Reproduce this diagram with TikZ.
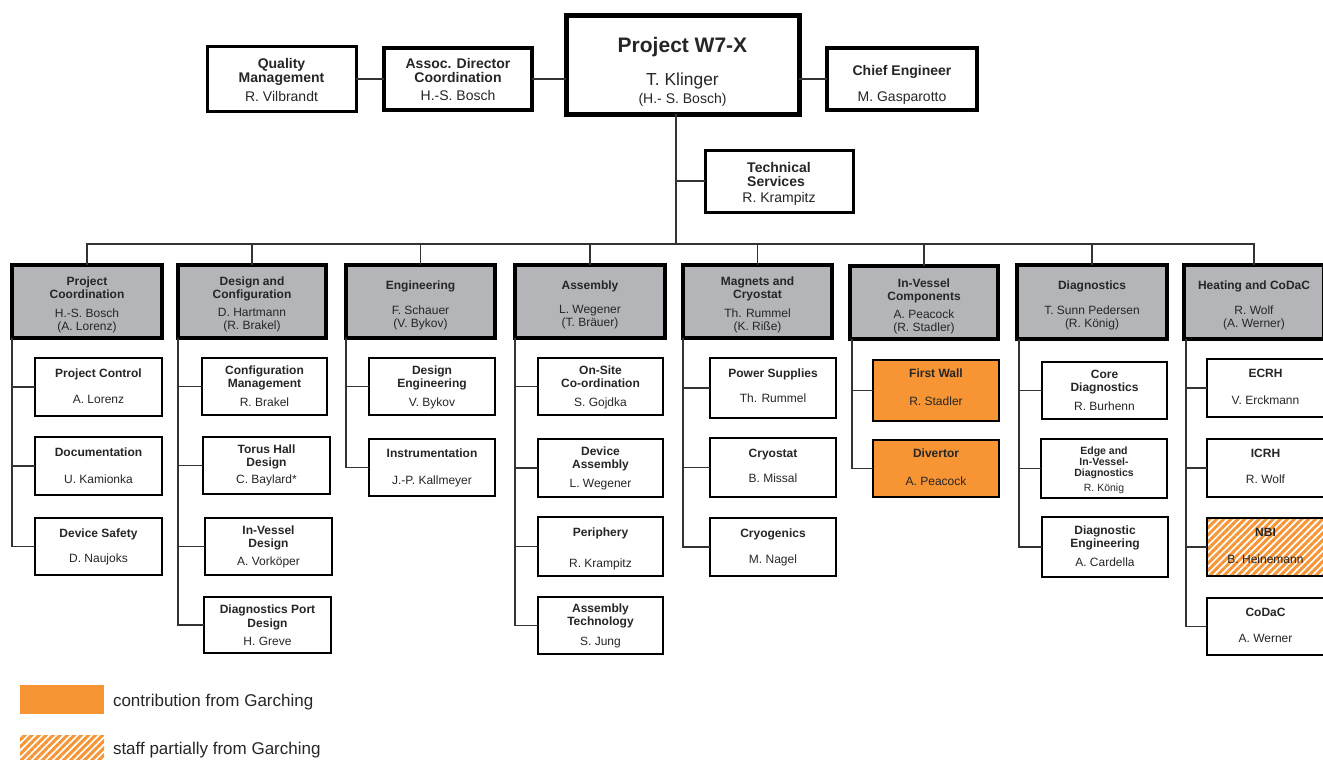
\documentclass[tikz,border=0pt]{standalone}
\usepackage{fontspec}
\setmainfont{Liberation Sans}
\usetikzlibrary{fit,calc,patterns.meta}
\definecolor{headgray}{HTML}{B3B5B8}
\definecolor{garch}{HTML}{F79433}
\definecolor{txt}{HTML}{262626}
\definecolor{linegray}{HTML}{333333}
\tikzset{
  every node/.style={outer sep=0pt, text=txt},
  box/.style={draw=black, fill=white, line width=2.8pt, inner sep=0pt},
  head/.style={box, fill=headgray, line width=3.8pt},
  garching/.style={box, fill=garch},
  partial/.style={box, preaction={fill=white}, fill=none,
    pattern={Lines[angle=45,distance=5pt,line width=3pt]}, pattern color=garch},
  ttl/.style={font=\bfseries\fontsize{12}{13.5}\selectfont, align=center, inner sep=0pt},
  nm/.style={font=\fontsize{12}{13}\selectfont, align=center, inner sep=0pt},
  ttlb/.style={font=\bfseries\fontsize{14}{14}\selectfont, align=center, inner sep=0pt},
  nmb/.style={font=\fontsize{14}{15}\selectfont, align=center, inner sep=0pt},
  conn/.style={draw=linegray, line width=1.5pt},
}
\newcommand\orgsub[8]{%
  \node[#2, fit={#3 #4}] (#1) {};
  \node[ttl, anchor=north] (#1-t) at ($(#1.north)+(0,#7)$) {#5};
  \node[nm, anchor=base] (#1-n) at ($(#1.south)+(0,-#8)$) {#6};
}
\newcommand\orghead[7]{%
  \node[head, fit={#2 #3}] (#1) {};
  \node[ttl, anchor=north] (#1-t) at ($(#1.north)+(0,#6)$) {#4};
  \node[nm, anchor=north] (#1-n) at ($(#1.north)+(0,#7)$) {#5};
}
\begin{document}
\begin{tikzpicture}[x=1pt, y=-1pt]
\useasboundingbox (0,0) rectangle (1323,760);
\clip (0,0) rectangle (1323,760);

% ---------- top row ----------
\node[box, line width=3pt, fit={(207,47) (356,111)}] (qm) {};
\node[ttlb, anchor=north] (qm-t) at (281.5,58) {Quality\\Management};
\node[nmb, anchor=base] (qm-n) at (281.5,101) {R. Vilbrandt};

\node[box, line width=4pt, fit={(384,48) (532,110)}] (adc) {};
\node[ttlb, anchor=north] (adc-t) at (458,58) {Assoc. Director\\Coordination};
\node[nmb, anchor=base] (adc-n) at (458,100) {H.-S. Bosch};

\node[box, line width=5pt, fit={(566,16) (799,114)}] (w7x) {};
\node[anchor=base, inner sep=0pt, font=\bfseries\fontsize{21}{24}\selectfont] (w7x-t) at (682.5,52.5) {Project W7-X};
\node[anchor=base, inner sep=0pt, font=\fontsize{17.4}{20}\selectfont] (w7x-n) at (682.5,85.2) {T. Klinger};
\node[anchor=base, inner sep=0pt, font=\fontsize{14}{16}\selectfont] (w7x-d) at (682.5,103) {(H.- S. Bosch)};

\node[box, line width=4pt, fit={(827,48) (977,110)}] (ce) {};
\node[ttlb, anchor=base] (ce-t) at (902,75) {Chief Engineer};
\node[nmb, anchor=base] (ce-n) at (902,101) {M. Gasparotto};

\node[box, line width=3pt, fit={(705,150) (853,212)}] (ts) {};
\node[ttlb, anchor=north, align=left] (ts-t) at (779,162) {Technical\\Services};
\node[nmb, anchor=base] (ts-n) at (779,202) {R. Krampitz};

\coordinate (spine) at (676,244);
\draw[conn] (qm.east) -- (adc.west);
\draw[conn] (adc.east) -- (adc.east -| w7x.west);
\draw[conn] (ce.west -| w7x.east) -- (ce.west);
\draw[conn] (spine |- w7x.south) -- (spine);
\draw[conn] (ts.west -| spine) -- (ts.west);

% ---------- column heads ----------
\orghead{pc}{(12,265)}{(162,338)}{Project\\Coordination}{H.-S. Bosch\\(A. Lorenz)}{11.7}{43.7}
\orghead{dc}{(178,265)}{(326,338)}{Design and\\Configuration}{D. Hartmann\\(R. Brakel)}{11.7}{43.7}
\orghead{en}{(346,265)}{(495,338)}{Engineering}{F. Schauer\\(V. Bykov)}{15.7}{40.7}
\orghead{as}{(515,265)}{(665,338)}{Assembly}{L. Wegener\\(T. Bräuer)}{15.7}{40.7}
\orghead{mc}{(683,265)}{(832,338)}{Magnets and\\Cryostat}{Th. Rummel\\(K. Riße)}{11.7}{43.7}
\orghead{iv}{(850,266)}{(998,339)}{In-Vessel\\Components}{A. Peacock\\(R. Stadler)}{12.7}{43.7}
\orghead{dg}{(1017,265)}{(1167,339)}{Diagnostics}{T. Sunn Pedersen\\(R. König)}{15.7}{40.7}
\orghead{hc}{(1184,265)}{(1324,339)}{Heating and CoDaC}{R. Wolf\\(A. Werner)}{15.7}{40.7}

\draw[conn] (pc.north) |- (spine) -| (hc.north);
\foreach \h in {dc,en,as,mc,iv,dg}{\draw[conn] (\h.north) -- (\h.north |- spine);}

% ---------- column 1 ----------
\orgsub{pc1}{box}{(35,358)}{(162,416)}{Project Control}{A. Lorenz}{10.7}{12.7}
\orgsub{pc2}{box}{(35,437)}{(162,495)}{Documentation}{U. Kamionka}{11.2}{11.7}
\orgsub{pc3}{box}{(35,518)}{(162,575)}{Device Safety}{D. Naujoks}{10.7}{12.7}
% ---------- column 2 ----------
\orgsub{dc1}{box}{(202,358)}{(327,415)}{Configuration\\Management}{R. Brakel}{7.7}{8.7}
\orgsub{dc2}{box}{(203,437)}{(330,494)}{Torus Hall\\Design}{C. Baylard*}{7.7}{10.7}
\orgsub{dc3}{box}{(205,518)}{(332,575)}{In-Vessel\\Design}{A. Vorköper}{7.7}{9.7}
\orgsub{dc4}{box}{(204,597)}{(331,653)}{Diagnostics Port\\Design}{H. Greve}{8.2}{7.7}
% ---------- column 3 ----------
\orgsub{en1}{box}{(369,358)}{(495,415)}{Design\\Engineering}{V. Bykov}{7.7}{8.7}
\orgsub{en2}{box}{(369,439)}{(495,496)}{Instrumentation}{J.-P. Kallmeyer}{9.7}{11.7}
% ---------- column 4 ----------
\orgsub{as1}{box}{(538,358)}{(663,415)}{On-Site\\Co-ordination}{S. Gojdka}{7.7}{8.7}
\orgsub{as2}{box}{(538,439)}{(663,497)}{Device\\Assembly}{L. Wegener}{7.7}{9.7}
\orgsub{as3}{box}{(538,517)}{(663,576)}{Periphery}{R. Krampitz}{10.7}{8.7}
\orgsub{as4}{box}{(538,597)}{(663,654)}{Assembly\\Technology}{S. Jung}{6.7}{8.7}
% ---------- column 5 ----------
\orgsub{mc1}{box}{(710,358)}{(836,418)}{Power Supplies}{Th. Rummel}{10.7}{15.7}
\orgsub{mc2}{box}{(710,438)}{(836,497)}{Cryostat}{B. Missal}{10.7}{14.7}
\orgsub{mc3}{box}{(710,518)}{(836,576)}{Cryogenics}{M. Nagel}{10.7}{12.7}
% ---------- column 6 ----------
\orgsub{iv1}{garching}{(873,360)}{(999,421)}{First Wall}{R. Stadler}{8.7}{15.7}
\orgsub{iv2}{garching}{(873,440)}{(999,497)}{Divertor}{A. Peacock}{8.7}{11.7}
% ---------- column 7 ----------
\orgsub{dg1}{box}{(1042,362)}{(1167,419)}{Core\\Diagnostics}{R. Burhenn}{7.7}{8.7}
\node[box, fit={(1041,439) (1167,498)}] (dg2) {};
\node[anchor=north, align=center, inner sep=0pt, font=\bfseries\fontsize{10.5}{11}\selectfont] (dg2-t) at ($(dg2.north)+(0,8.2)$) {Edge and\\In-Vessel-\\Diagnostics};
\node[anchor=base, inner sep=0pt, font=\fontsize{10.5}{11}\selectfont] (dg2-n) at ($(dg2.south)+(0,-6.2)$) {R. König};
\orgsub{dg3}{box}{(1042,517)}{(1168,577)}{Diagnostic\\Engineering}{A. Cardella}{8.7}{10.7}
% ---------- column 8 ----------
\orgsub{hc1}{box}{(1207,359)}{(1324,417)}{ECRH}{V. Erckmann}{9.7}{12.7}
\orgsub{hc2}{box}{(1207,439)}{(1324,497)}{ICRH}{R. Wolf}{9.7}{13.7}
\orgsub{hc3}{partial}{(1207,518)}{(1324,576)}{NBI}{B. Heinemann}{10.7}{12.7}
\orgsub{hc4}{box}{(1207,598)}{(1324,655)}{CoDaC}{A. Werner}{9.7}{12.7}

% ---------- connectors to sub-units ----------
\foreach \c in {pc1,pc2,pc3}{\draw[conn] (pc.south west) |- (\c.west);}
\foreach \c in {dc1,dc2,dc3,dc4}{\draw[conn] (dc.south west) |- (\c.west);}
\foreach \c in {en1,en2}{\draw[conn] (en.south west) |- (\c.west);}
\foreach \c in {as1,as2,as3,as4}{\draw[conn] (as.south west) |- (\c.west);}
\foreach \c in {mc1,mc2,mc3}{\draw[conn] (mc.south west) |- (\c.west);}
\foreach \c in {iv1,iv2}{\draw[conn] ([xshift=2pt]iv.south west) |- (\c.west);}
\foreach \c in {dg1,dg2,dg3}{\draw[conn] ([xshift=2pt]dg.south west) |- (\c.west);}
\foreach \c in {hc1,hc2,hc3,hc4}{\draw[conn] ([xshift=2pt]hc.south west) |- (\c.west);}

% ---------- legend ----------
\node[fill=garch, inner sep=0pt, fit={(20,685) (104,714)}] (leg1) {};
\node[anchor=base west, inner sep=0pt, font=\fontsize{17}{20}\selectfont] (leg1-t) at (113,706) {contribution from Garching};
\node[inner sep=0pt, fill=white, pattern={Lines[angle=45,distance=5pt,line width=3pt]}, pattern color=garch, fit={(20,735) (104,764)}] (leg2) {};
\node[anchor=base west, inner sep=0pt, font=\fontsize{17}{20}\selectfont] (leg2-t) at (113,754) {staff partially from Garching};
\end{tikzpicture}
\end{document}
